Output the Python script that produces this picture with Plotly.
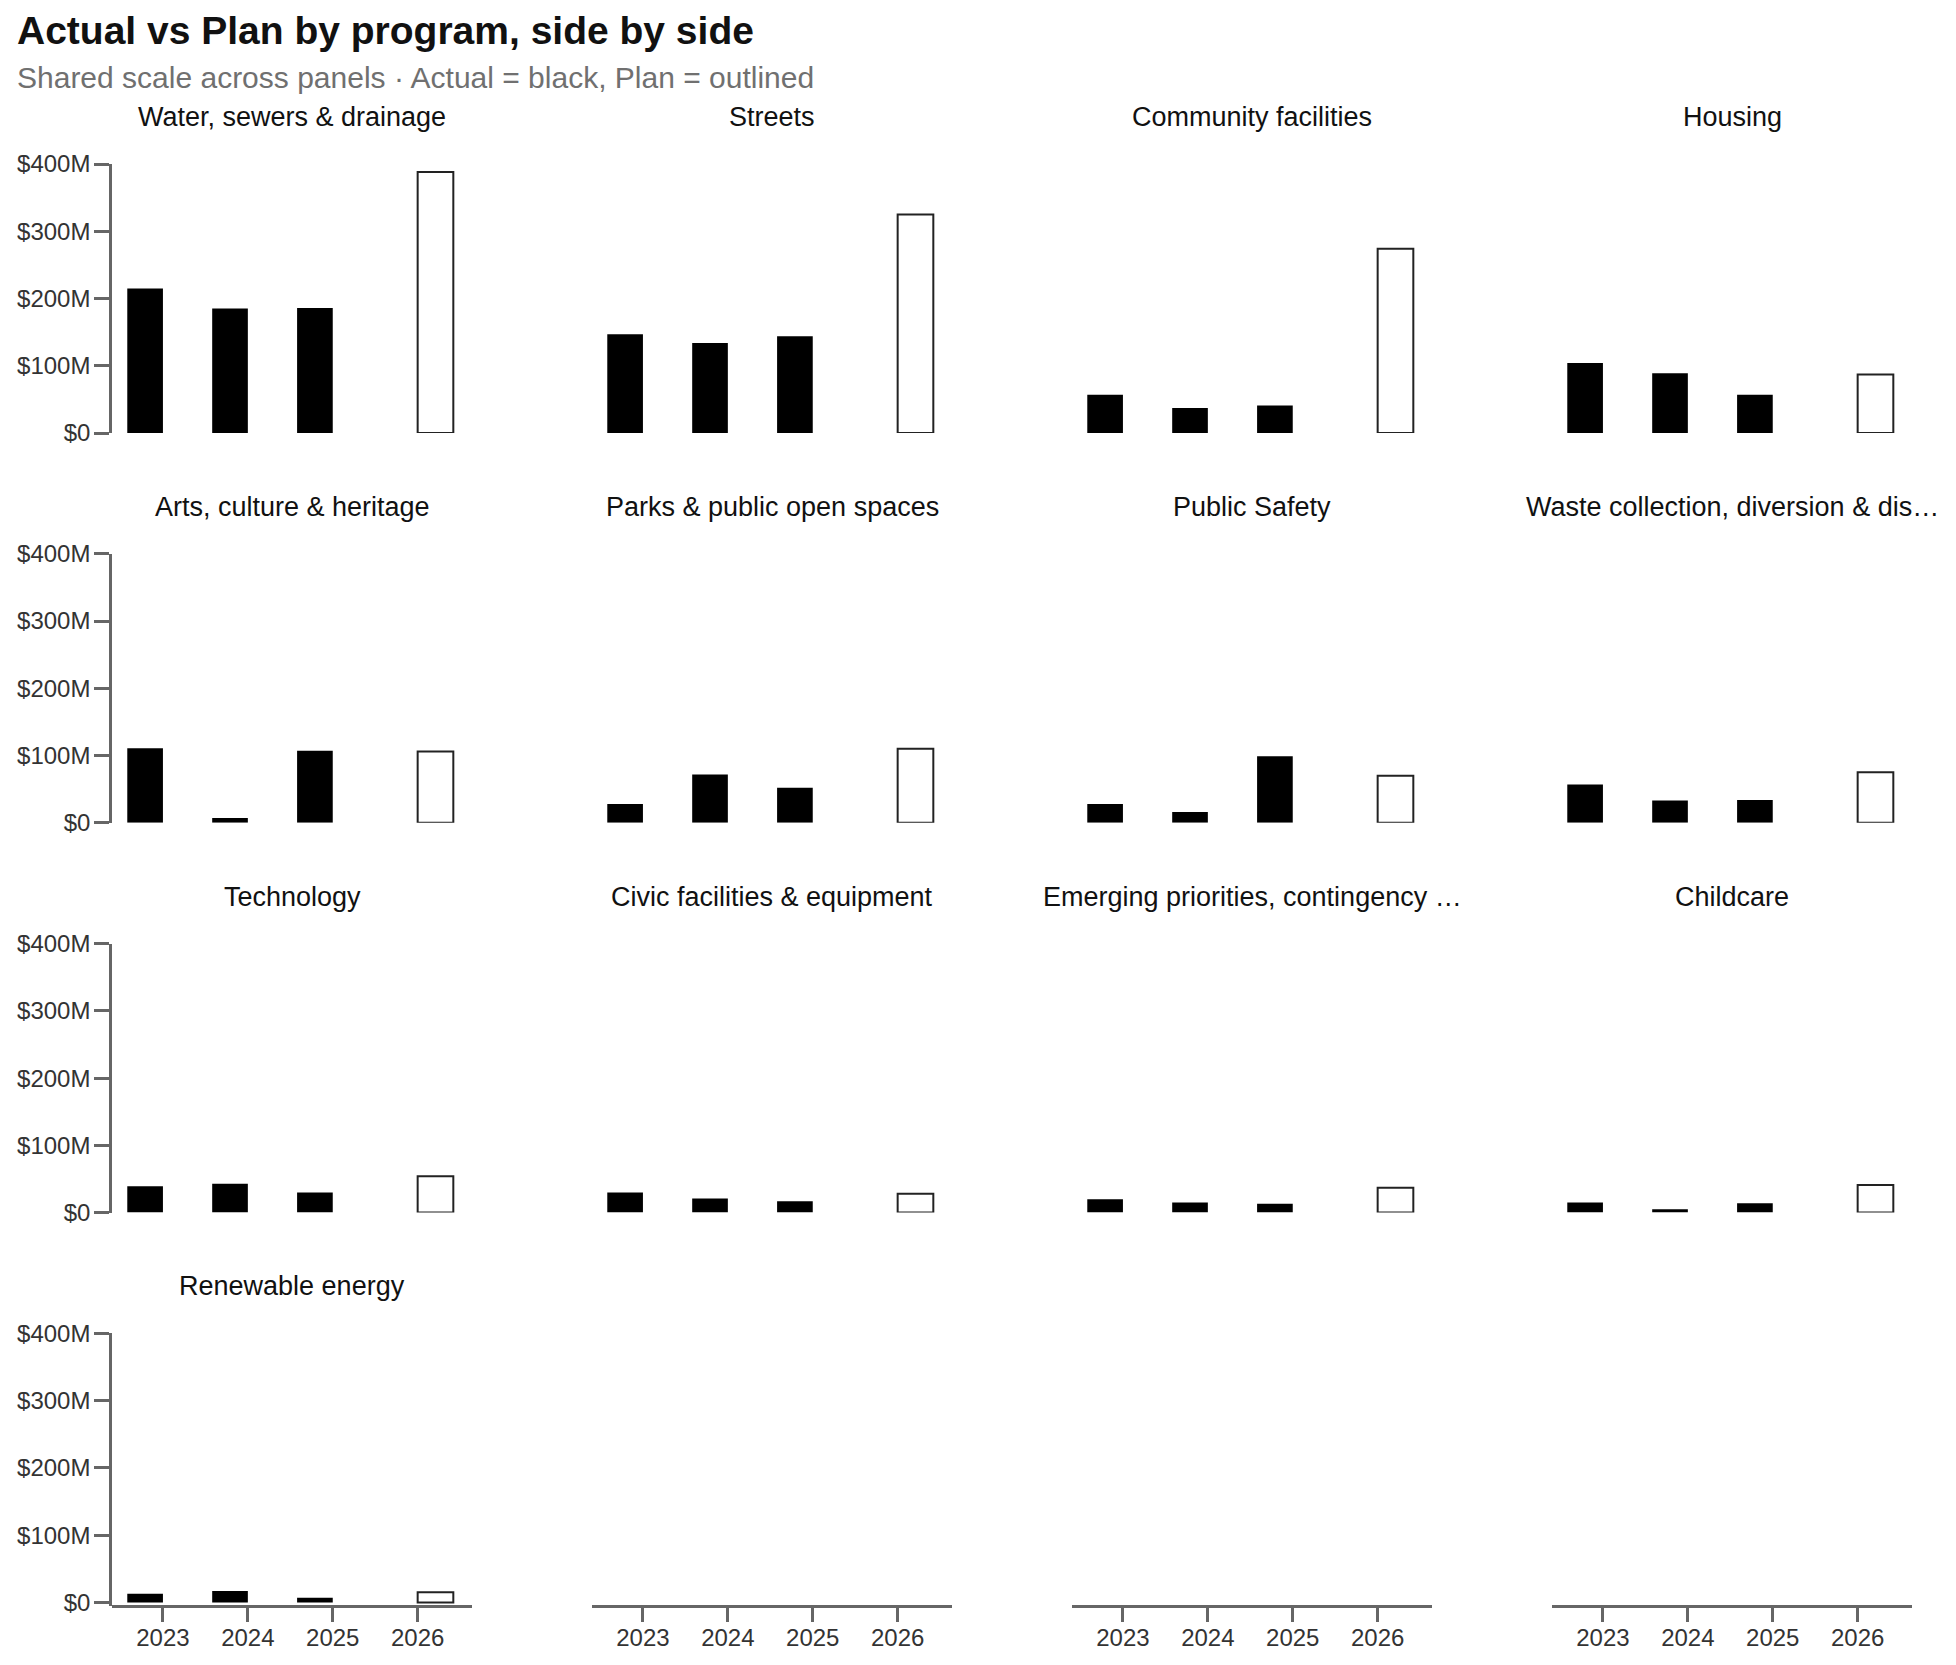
import plotly.graph_objects as go

W, H = 1956, 1665

programs = [
    "Water, sewers & drainage", "Streets", "Community facilities", "Housing",
    "Arts, culture & heritage", "Parks & public open spaces", "Public Safety",
    "Waste collection, diversion & dis…",
    "Technology", "Civic facilities & equipment", "Emerging priorities, contingency …",
    "Childcare", "Renewable energy",
]
years = ["2023", "2024", "2025", "2026"]
actual_years = ["2023", "2024", "2025"]
plan_years = ["2026"]

# values in $M
actual_2023 = [215, 147, 57, 104, 111, 28, 28, 57, 39, 30, 20, 15, 13]
actual_2024 = [185, 134, 37, 89, 7, 72, 16, 33, 43, 21, 15, 5, 17]
actual_2025 = [186, 144, 41, 57, 107, 52, 99, 34, 30, 17, 13, 14, 7]
plan_2026 = [388, 325, 274, 87, 106, 110, 70, 75, 54, 28, 37, 41, 15]

y_ticks = [0, 100, 200, 300, 400]
y_tick_labels = ["$0", "$100M", "$200M", "$300M", "$400M"]
Y_MAX = 400

FONT = "Liberation Sans, Arial, Helvetica, sans-serif"
AX = "#666666"

COL_X0, COL_STEP, PW = 112, 480, 360
ROW_Y0, ROW_STEP, PH = 164, 389.8, 269
X_AXIS_Y = 1605.5

fig = go.Figure()
n_prog = len(programs)
bottom_idx = {}
for i in range(n_prog):
    bottom_idx[i % 4] = i

annotations = []
for i, name in enumerate(programs):
    r, c = divmod(i, 4)
    n = i + 1
    xa = "x" if n == 1 else f"x{n}"
    ya = "y" if n == 1 else f"y{n}"
    fig.add_trace(go.Bar(
        x=actual_years, y=[actual_2023[i], actual_2024[i], actual_2025[i]],
        xaxis=xa, yaxis=ya, name="Actual", offsetgroup="actual",
        marker=dict(color="black", line=dict(width=0)), showlegend=False,
    ))
    fig.add_trace(go.Bar(
        x=plan_years, y=[plan_2026[i]],
        xaxis=xa, yaxis=ya, name="Plan", offsetgroup="plan",
        marker=dict(color="white", line=dict(color="#222222", width=2)), showlegend=False,
    ))
    x0 = COL_X0 + c * COL_STEP
    top = ROW_Y0 + r * ROW_STEP
    bottom = top + PH
    ymin = 0
    show_x = bottom_idx[c] == i
    if show_x and c == 0:
        # let the value axis line reach down to the offset category axis
        ext = X_AXIS_Y - bottom
        ymin = -ext * Y_MAX / PH
        bottom = X_AXIS_Y
    xdom = [x0 / W, (x0 + PW) / W]
    ydom = [1 - bottom / H, 1 - top / H]
    xkey = "xaxis" if n == 1 else f"xaxis{n}"
    ykey = "yaxis" if n == 1 else f"yaxis{n}"
    xcfg = dict(domain=xdom, type="category", categoryorder="array", categoryarray=years,
                range=[-0.6, 3.64], fixedrange=True, showgrid=False, zeroline=False,
                automargin=False)
    if show_x:
        xcfg.update(anchor="free", position=1 - X_AXIS_Y / H, showline=True, linecolor=AX,
                    linewidth=2.5, ticks="outside", ticklen=15, tickwidth=2.5, tickcolor=AX,
                    ticklabelstandoff=-5,
                    tickfont=dict(family=FONT, size=24, color="#333333"), visible=True)
    else:
        xcfg.update(anchor=ya, visible=False)
    ycfg = dict(domain=ydom, range=[ymin, Y_MAX], anchor=xa, fixedrange=True, showgrid=False,
                zeroline=False, automargin=False)
    if c == 0:
        ycfg.update(showline=True, linecolor=AX, linewidth=2.5, ticks="outside", ticklen=15,
                    tickwidth=2.5, tickcolor=AX, tickvals=y_ticks, ticktext=y_tick_labels,
                    ticklabelstandoff=-1,
                    tickfont=dict(family=FONT, size=24, color="#333333"))
    else:
        ycfg.update(visible=False)
    fig.layout[xkey] = xcfg
    fig.layout[ykey] = ycfg
    annotations.append(dict(
        text=name, x=(x0 + PW / 2) / W, y=1 - (top - 47) / H, xref="paper", yref="paper",
        xanchor="center", yanchor="middle", showarrow=False,
        font=dict(family=FONT, size=27, color="#111111"),
    ))

annotations.append(dict(
    text="<b>Actual vs Plan by program, side by side</b>", x=15 / W, y=1 - 30 / H,
    xref="paper", yref="paper", xanchor="left", yanchor="middle", showarrow=False,
    font=dict(family=FONT, size=39, color="#111111"),
))
annotations.append(dict(
    text="Shared scale across panels · Actual = black, Plan = outlined", x=15 / W, y=1 - 77 / H,
    xref="paper", yref="paper", xanchor="left", yanchor="middle", showarrow=False,
    font=dict(family=FONT, size=30, color="#707070"),
))

fig.update_layout(
    width=W, height=H, autosize=False,
    margin=dict(l=0, r=0, t=0, b=0, pad=0, autoexpand=False),
    paper_bgcolor="white", plot_bgcolor="white",
    barmode="group", bargap=0.16, bargroupgap=0,
    annotations=annotations, showlegend=False,
    font=dict(family=FONT),
)

fig.write_html("out.html")
